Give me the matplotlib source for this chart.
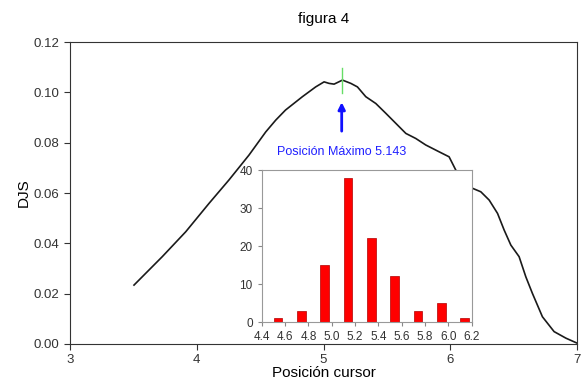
import matplotlib
matplotlib.use("Agg")
import matplotlib.pyplot as plt

plt.rcParams['font.family'] = ['Liberation Sans', 'DejaVu Sans']

# main curve
pos = [3.505, 3.728, 3.913, 4.097, 4.254, 4.412, 4.544, 4.623, 4.70, 4.833,
       4.938, 5.004, 5.043, 5.083, 5.149, 5.215, 5.267, 5.333, 5.412, 5.491,
       5.570, 5.649, 5.727, 5.806, 5.911, 5.990, 6.043, 6.10, 6.174, 6.240,
       6.306, 6.372, 6.424, 6.477, 6.542, 6.595, 6.647, 6.726, 6.818, 6.911, 7.0]
djs = [0.0234, 0.0347, 0.0446, 0.0559, 0.0652, 0.0751, 0.0843, 0.0890, 0.0930, 0.0983,
       0.1022, 0.1042, 0.1036, 0.1033, 0.1049, 0.1036, 0.1022, 0.0983, 0.0956, 0.0917,
       0.0877, 0.0837, 0.0817, 0.0791, 0.0764, 0.0744, 0.0691, 0.0650, 0.0619, 0.0605,
       0.0572, 0.0519, 0.0453, 0.0393, 0.0347, 0.0267, 0.0201, 0.0108, 0.0049, 0.0023, 0.0003]

max_pos = 5.143

# histogram of maxima
bin_centers = [4.54, 4.74, 4.94, 5.14, 5.34, 5.54, 5.74, 5.94, 6.14]
counts = [1, 3, 15, 38, 22, 12, 3, 5, 1]
hist_ticks = [4.4, 4.6, 4.8, 5.0, 5.2, 5.4, 5.6, 5.8, 6.0, 6.2]

fig = plt.figure(figsize=(5.83, 3.83), dpi=100)
ax = fig.add_axes([0.120, 0.102, 0.870, 0.788])

ax.plot(pos, djs, color='#1a1a1a', lw=1.2)
ax.plot([max_pos, max_pos], [0.0997, 0.1097], color='#66dd66', lw=1)
ax.annotate("", xy=(max_pos, 0.0972), xytext=(max_pos, 0.0835),
            arrowprops=dict(arrowstyle='-|>', color='#1010ff', lw=2, mutation_scale=10))
ax.text(max_pos, 0.0763, "Posición Máximo 5.143", color='#2020ff', fontsize=9,
        ha='center', va='center')

ax.set_xlim(3, 7)
ax.set_ylim(0, 0.12)
ax.set_xticks([3, 4, 5, 6, 7])
ax.set_yticks([0, 0.02, 0.04, 0.06, 0.08, 0.10, 0.12])
ax.set_yticklabels(["0.00", "0.02", "0.04", "0.06", "0.08", "0.10", "0.12"])
ax.tick_params(labelsize=9.5, direction='out', length=4, colors='#333333')
for s in ax.spines.values():
    s.set_color('#333333')
ax.set_xlabel("Posición cursor", fontsize=11, labelpad=0)
ax.set_ylabel("DJS", fontsize=11, labelpad=2)
ax.set_title("figura 4", fontsize=11, pad=14)

ins = fig.add_axes([0.449, 0.159, 0.360, 0.397])
ins.bar(bin_centers, counts, width=0.075, color='#ff0000', edgecolor='#b00000', lw=0.5)
ins.set_xlim(4.4, 6.2)
ins.set_ylim(0, 40)
ins.set_xticks(hist_ticks)
ins.set_yticks([0, 10, 20, 30, 40])
ins.tick_params(labelsize=8.5, direction='out', length=3, colors='#888888', labelcolor='#333333')
for s in ins.spines.values():
    s.set_color('#999999')

fig.savefig("out.png", dpi=100)
